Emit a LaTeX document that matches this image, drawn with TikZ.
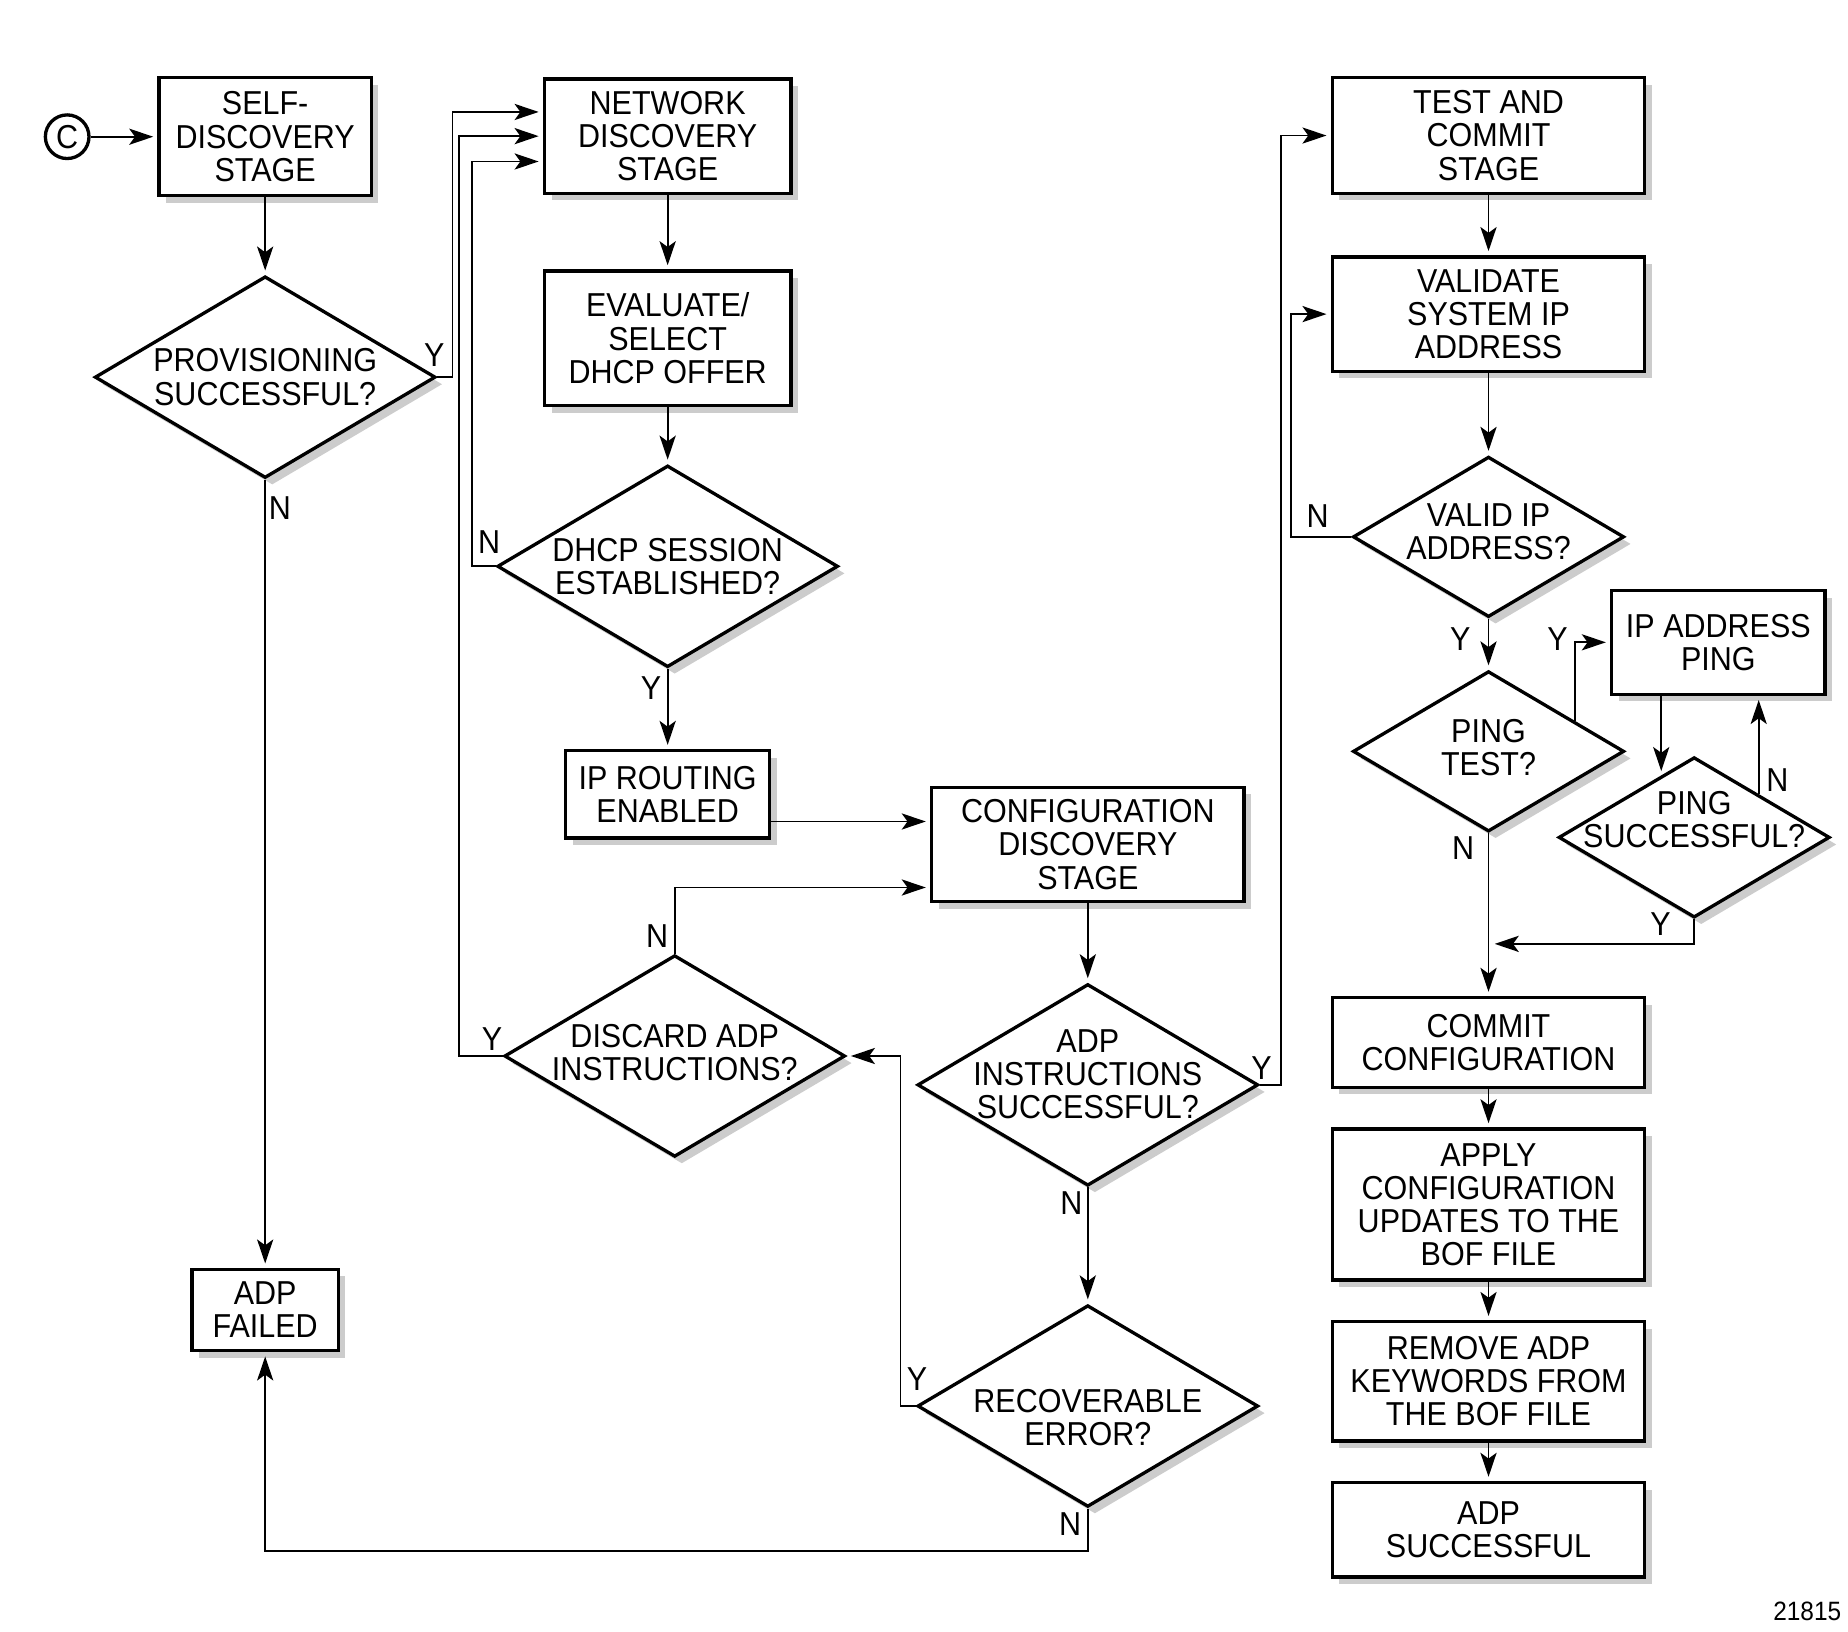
\documentclass[tikz,border=0pt]{standalone}
\usepackage{fontspec}
\setmainfont{Liberation Sans}[FakeStretch=0.92]
\usetikzlibrary{shapes.geometric,arrows.meta,calc,shadows}

\begin{document}
\begin{tikzpicture}[x=0.01cm,y=-0.01cm,->,>={Stealth[length=5.8pt,width=3.9pt,inset=1.4pt]},line width=0.45pt,
  every node/.style={font=\fontsize{8}{8}\selectfont,align=center},
  boxshadow/.style={drop shadow={shadow xshift=0.06cm,shadow yshift=-0.06cm,fill=black!20,opacity=1}},
  stagebox/.style={rectangle,draw,line width=0.8pt,fill=white,inner sep=0pt,boxshadow},
  bigdec/.style={diamond,draw,line width=0.8pt,fill=white,inner sep=0pt,minimum width=2.89cm,minimum height=1.71cm,boxshadow},
  smalldec/.style={diamond,draw,line width=0.8pt,fill=white,inner sep=0pt,minimum width=2.30cm,minimum height=1.36cm,boxshadow},
  yn/.style={inner sep=0pt}]

    \useasboundingbox (0,0) rectangle (1568,1384);

    % Left column
    \node [circle,draw,line width=0.8pt,minimum size=0.37cm,inner sep=0pt] at (57,116) (start) {C};
    \node [stagebox,minimum width=1.80cm,minimum height=1.00cm] at (225,116) (self) {SELF-\\DISCOVERY\\STAGE};
    \node [bigdec,label={center:{PROVISIONING\\SUCCESSFUL?}}] at (225,320) (prov) {};
    \node [stagebox,minimum width=1.24cm,minimum height=0.69cm] at (225,1111.5) (failed) {ADP\\FAILED};

    % Network discovery
    \node [stagebox,minimum width=2.09cm,minimum height=0.97cm] at (566.5,115.5) (netw) {NETWORK\\DISCOVERY\\STAGE};
    \node [stagebox,minimum width=2.09cm,minimum height=1.14cm] at (566.5,287) (eval) {EVALUATE/\\SELECT\\DHCP OFFER};
    \node [bigdec,label={center:{DHCP SESSION\\ESTABLISHED?}}] at (566.5,480.5) (dhcp) {};
    \node [stagebox,minimum width=1.73cm,minimum height=0.74cm] at (566.5,674) (iprout) {IP ROUTING\\ENABLED};
    \node [bigdec,label={[yshift=0.03cm]center:{DISCARD ADP\\INSTRUCTIONS?}}] at (572.5,896) (discard) {};

    % Configuration discovery
    \node [stagebox,minimum width=2.65cm,minimum height=0.97cm] at (923,716.5) (config) {CONFIGURATION\\DISCOVERY\\STAGE};
    \node [bigdec,label={[yshift=0.09cm]center:{ADP\\INSTRUCTIONS\\SUCCESSFUL?}}] at (923,920.5) (instr) {};
    \node [bigdec,label={[yshift=-0.1cm]center:{RECOVERABLE\\ERROR?}}] at (923,1193) (recov) {};

    % Test and commit
    \node [stagebox,minimum width=2.65cm,minimum height=0.98cm] at (1263,115) (test) {TEST AND\\COMMIT\\STAGE};
    \node [stagebox,minimum width=2.65cm,minimum height=0.97cm] at (1263,266.5) (validate) {VALIDATE\\SYSTEM IP\\ADDRESS};
    \node [smalldec,label={[yshift=0.045cm]center:{VALID IP\\ADDRESS?}}] at (1263,455.5) (validip) {};
    \node [smalldec,label={[yshift=0.035cm]center:{PING\\TEST?}}] at (1263,637.5) (pingtest) {};
    \node [stagebox,minimum width=1.81cm,minimum height=0.88cm] at (1458,545) (ipping) {IP ADDRESS\\PING};
    \node [smalldec,label={[yshift=0.15cm]center:{PING\\SUCCESSFUL?}}] at (1437.5,710.5) (pingsucc) {};
    \node [stagebox,minimum width=2.65cm,minimum height=0.76cm] at (1263,884.5) (commit) {COMMIT\\CONFIGURATION};
    \node [stagebox,minimum width=2.65cm,minimum height=1.28cm] at (1263,1022) (apply) {APPLY\\CONFIGURATION\\UPDATES TO THE\\BOF FILE};
    \node [stagebox,minimum width=2.65cm,minimum height=1.01cm] at (1263,1172) (remove) {REMOVE ADP\\KEYWORDS FROM\\THE BOF FILE};
    \node [stagebox,minimum width=2.65cm,minimum height=0.80cm] at (1263,1298) (success) {ADP\\SUCCESSFUL};

    % Y/N labels
    \node [yn] at (368.5,301) (provY) {Y};
    \node [yn] at (237.5,431) (provN) {N};
    \node [yn] at (415,460) (dhcpN) {N};
    \node [yn] at (552.5,584) (dhcpY) {Y};
    \node [yn] at (557.5,794) (discardN) {N};
    \node [yn] at (417.5,882) (discardY) {Y};
    \node [yn] at (1070.5,906) (instrY) {Y};
    \node [yn] at (909,1021) (instrN) {N};
    \node [yn] at (778,1170) (recovY) {Y};
    \node [yn] at (908,1293) (recovN) {N};
    \node [yn] at (1118,438) (validipN) {N};
    \node [yn] at (1239,542) (validipY) {Y};
    \node [yn] at (1321.5,542) (pingtestY) {Y};
    \node [yn] at (1241.5,720) (pingtestN) {N};
    \node [yn] at (1508,661.5) (pingsuccN) {N};
    \node [yn] at (1409,784) (pingsuccY) {Y};

    \node [font=\fontsize{6.4}{7}\selectfont,anchor=east,inner sep=0pt] at (1563,1367) (fignum) {21815};

    % Straight edges
    \path[->,shorten >=1pt]
    (start) edge (self)
    (self) edge (prov)
    (prov) edge (failed)
    (netw) edge (eval)
    (eval) edge (dhcp)
    (dhcp) edge (iprout)
    (config) edge (instr)
    (instr) edge (recov)
    (test) edge (validate)
    (validate) edge (validip)
    (validip) edge (pingtest)
    (pingtest) edge (commit)
    (commit) edge (apply)
    (apply) edge (remove)
    (remove) edge (success)
    ;

    % Routed edges
    \begin{scope}[shorten >=1pt]
    \draw (prov.east) -- ++(13,0) |- ([yshift=0.205cm]netw.west);
    \draw (discard.west) -- ++(-37,0) |- (netw.west);
    \draw (dhcp.west) -- ++(-20,0) |- ([yshift=-0.215cm]netw.west);
    \draw ([yshift=-0.23cm]iprout.east) -- ([yshift=-0.23cm]iprout.east -| config.west);
    \draw (discard.north) |- ([yshift=-0.365cm]config.west);
    \draw (instr.east) -- ++(18,0) |- (test.west);
    \draw (recov.west) -- ++(-13,0) |- (discard.east);
    \draw (recov.south) -- ++(0,36) -| (failed.south);
    \draw (validip.west) -- ++(-51,0) |- (validate.west);

    % Ping loop
    \path (pingtest.north) -- (pingtest.east) coordinate[pos=0.63] (ptY);
    \draw (ptY) |- (ipping.west);
    \path (pingsucc.north) -- (pingsucc.west) coordinate[pos=0.24] (psIn);
    \draw (psIn |- ipping.south) -- (psIn);
    \path (pingsucc.north) -- (pingsucc.east) coordinate[pos=0.47] (psN);
    \draw (psN) -- (psN |- ipping.south);
    \draw[shorten >=1.5pt] (pingsucc.south) |- ($(pingtest.south)!0.68!(commit.north)$);
    \end{scope}

\end{tikzpicture}
\end{document}
